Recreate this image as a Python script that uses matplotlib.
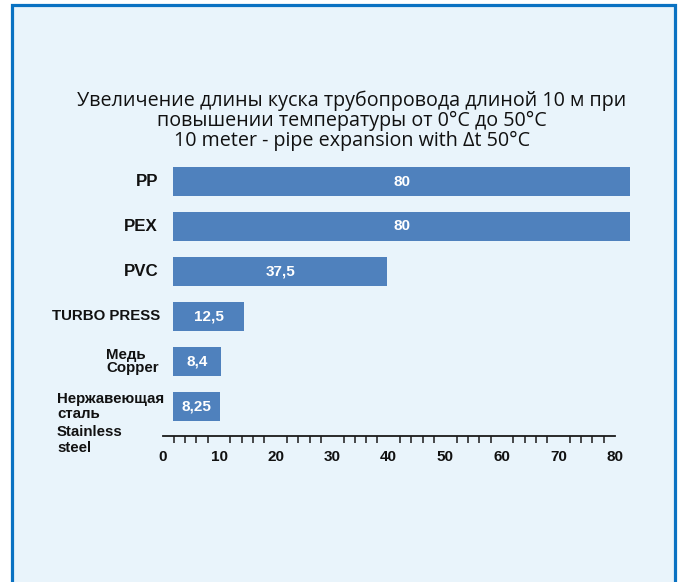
import matplotlib
matplotlib.use("Agg")
import matplotlib.pyplot as plt
from matplotlib.patches import Rectangle
import numpy as np

# ---- data -------------------------------------------------------------
categories = ["PP", "PEX", "PVC", "TURBO PRESS", "Медь\nCopper",
              "Нержавеющая\nсталь\nStainless\nsteel"]
expansion_mm = [80, 80, 37.5, 12.5, 8.4, 8.25]
value_labels = ["80", "80", "37,5", "12,5", "8,4", "8,25"]
scale_ticks = [0, 10, 20, 30, 40, 50, 60, 70, 80]
title_lines = ["Увеличение длины куска трубопровода длиной 10 м при",
               "повышении температуры от 0°C до 50°C",
               "10 meter - pipe expansion with Δt 50°C"]

# ---- layout helpers ---------------------------------------------------
W, H = 681, 582
fig = plt.figure(figsize=(W / 100, H / 100), dpi=100, facecolor="white")


def fx(px):
    return px / W


def fy(py):
    return 1 - py / H


BAR_COLOR = "#4F81BD"
PANEL_BG = "#E9F4FB"
PANEL_EDGE = "#0A72C2"
TEXT = "#111111"
LABEL_FONT = ["Liberation Sans", "DejaVu Sans"]
TITLE_FONT = ["Open Sans", "DejaVu Sans"]

# framed light-blue panel
fig.add_artist(Rectangle((fx(12), -0.05), fx(674.5) - fx(12), fy(5) + 0.05,
                         transform=fig.transFigure, facecolor=PANEL_BG,
                         edgecolor=PANEL_EDGE, linewidth=2.3, zorder=0))

# title
fig.text(fx(352), fy(91), "\n".join(title_lines), ha="center", va="top",
         multialignment="center", fontsize=14.2, family=TITLE_FONT,
         color=TEXT, linespacing=0.98)

# ---- bars -------------------------------------------------------------
x0_px, x80_px = 173, 630
top_px, bot_px = 159, 429
row_px = (bot_px - top_px) / len(categories)
ax = fig.add_axes([fx(x0_px), fy(bot_px), fx(x80_px) - fx(x0_px),
                   (bot_px - top_px) / H])
ax.set_facecolor("none")
ypos = np.arange(len(categories))
bar_h = 0.645
ax.barh(ypos, expansion_mm, height=bar_h, color=BAR_COLOR, zorder=2)
ax.set_xlim(0, 80)
ax.set_ylim(len(categories) - 0.5, -0.5)
ax.axis("off")

for y, v, lab in zip(ypos, expansion_mm, value_labels):
    ax.text(v / 2, y, lab, ha="center", va="center", color="white",
            fontsize=11, fontweight="bold", family=LABEL_FONT, zorder=3)


def ydata(py):
    """Pixel row (from the top) -> bar-axis data coordinate."""
    return (py - top_px) / row_px - 0.5


def xaxes(px):
    return (px - x0_px) / (x80_px - x0_px)


xt = ax.get_yaxis_transform()
label_kw = dict(transform=xt, fontweight="bold", family=LABEL_FONT,
                color=TEXT, multialignment="left", clip_on=False)

# single-line category names, right-aligned next to the bars
single_styles = [(158, 12.2), (158, 12.2), (159, 12.2), (160, 10.8)]
for y, lab, (px, fs) in zip(ypos[:4], categories[:4], single_styles):
    ax.text(xaxes(px), y, lab, ha="right", va="center", fontsize=fs,
            **label_kw)

# copper: two-line block centred on its bar
ax.text(xaxes(106), ypos[4], categories[4], ha="left", va="center",
        fontsize=10.8, linespacing=0.98, **label_kw)

# stainless steel: Russian and English halves stacked below the bar top
ru_part, en_part = categories[5].split("\n")[:2], categories[5].split("\n")[2:]
ax.text(xaxes(57), ydata(391.5), "\n".join(ru_part), ha="left", va="top",
        fontsize=10.8, linespacing=1.12, **label_kw)
ax.text(xaxes(57), ydata(425.5), "\n".join(en_part), ha="left", va="top",
        fontsize=10.8, linespacing=1.15, **label_kw)

# ---- ruler scale ------------------------------------------------------
rx0, rx1, ry = 162.5, 615, 436
rax = fig.add_axes([fx(rx0), fy(ry), fx(rx1) - fx(rx0), 0.001])
rax.set_facecolor("none")
rax.set_xlim(0, 80)
for s in ("top", "left", "right"):
    rax.spines[s].set_visible(False)
rax.spines["bottom"].set_linewidth(1.3)
rax.spines["bottom"].set_color("#1a1a1a")
rax.set_yticks([])
rax.set_xticks(scale_ticks)
rax.set_xticklabels([str(t) for t in scale_ticks])
rax.set_xticks(np.arange(0, 80, 2), minor=True)
rax.tick_params(axis="x", which="major", length=0, pad=10, labelsize=11,
                labelcolor=TEXT)
rax.tick_params(axis="x", which="minor", length=5.2, width=1.1,
                color="#1a1a1a", direction="out")
for t in rax.get_xticklabels():
    t.set_fontweight("bold")
    t.set_family(LABEL_FONT)

fig.savefig("out.png", dpi=100, facecolor="white")
